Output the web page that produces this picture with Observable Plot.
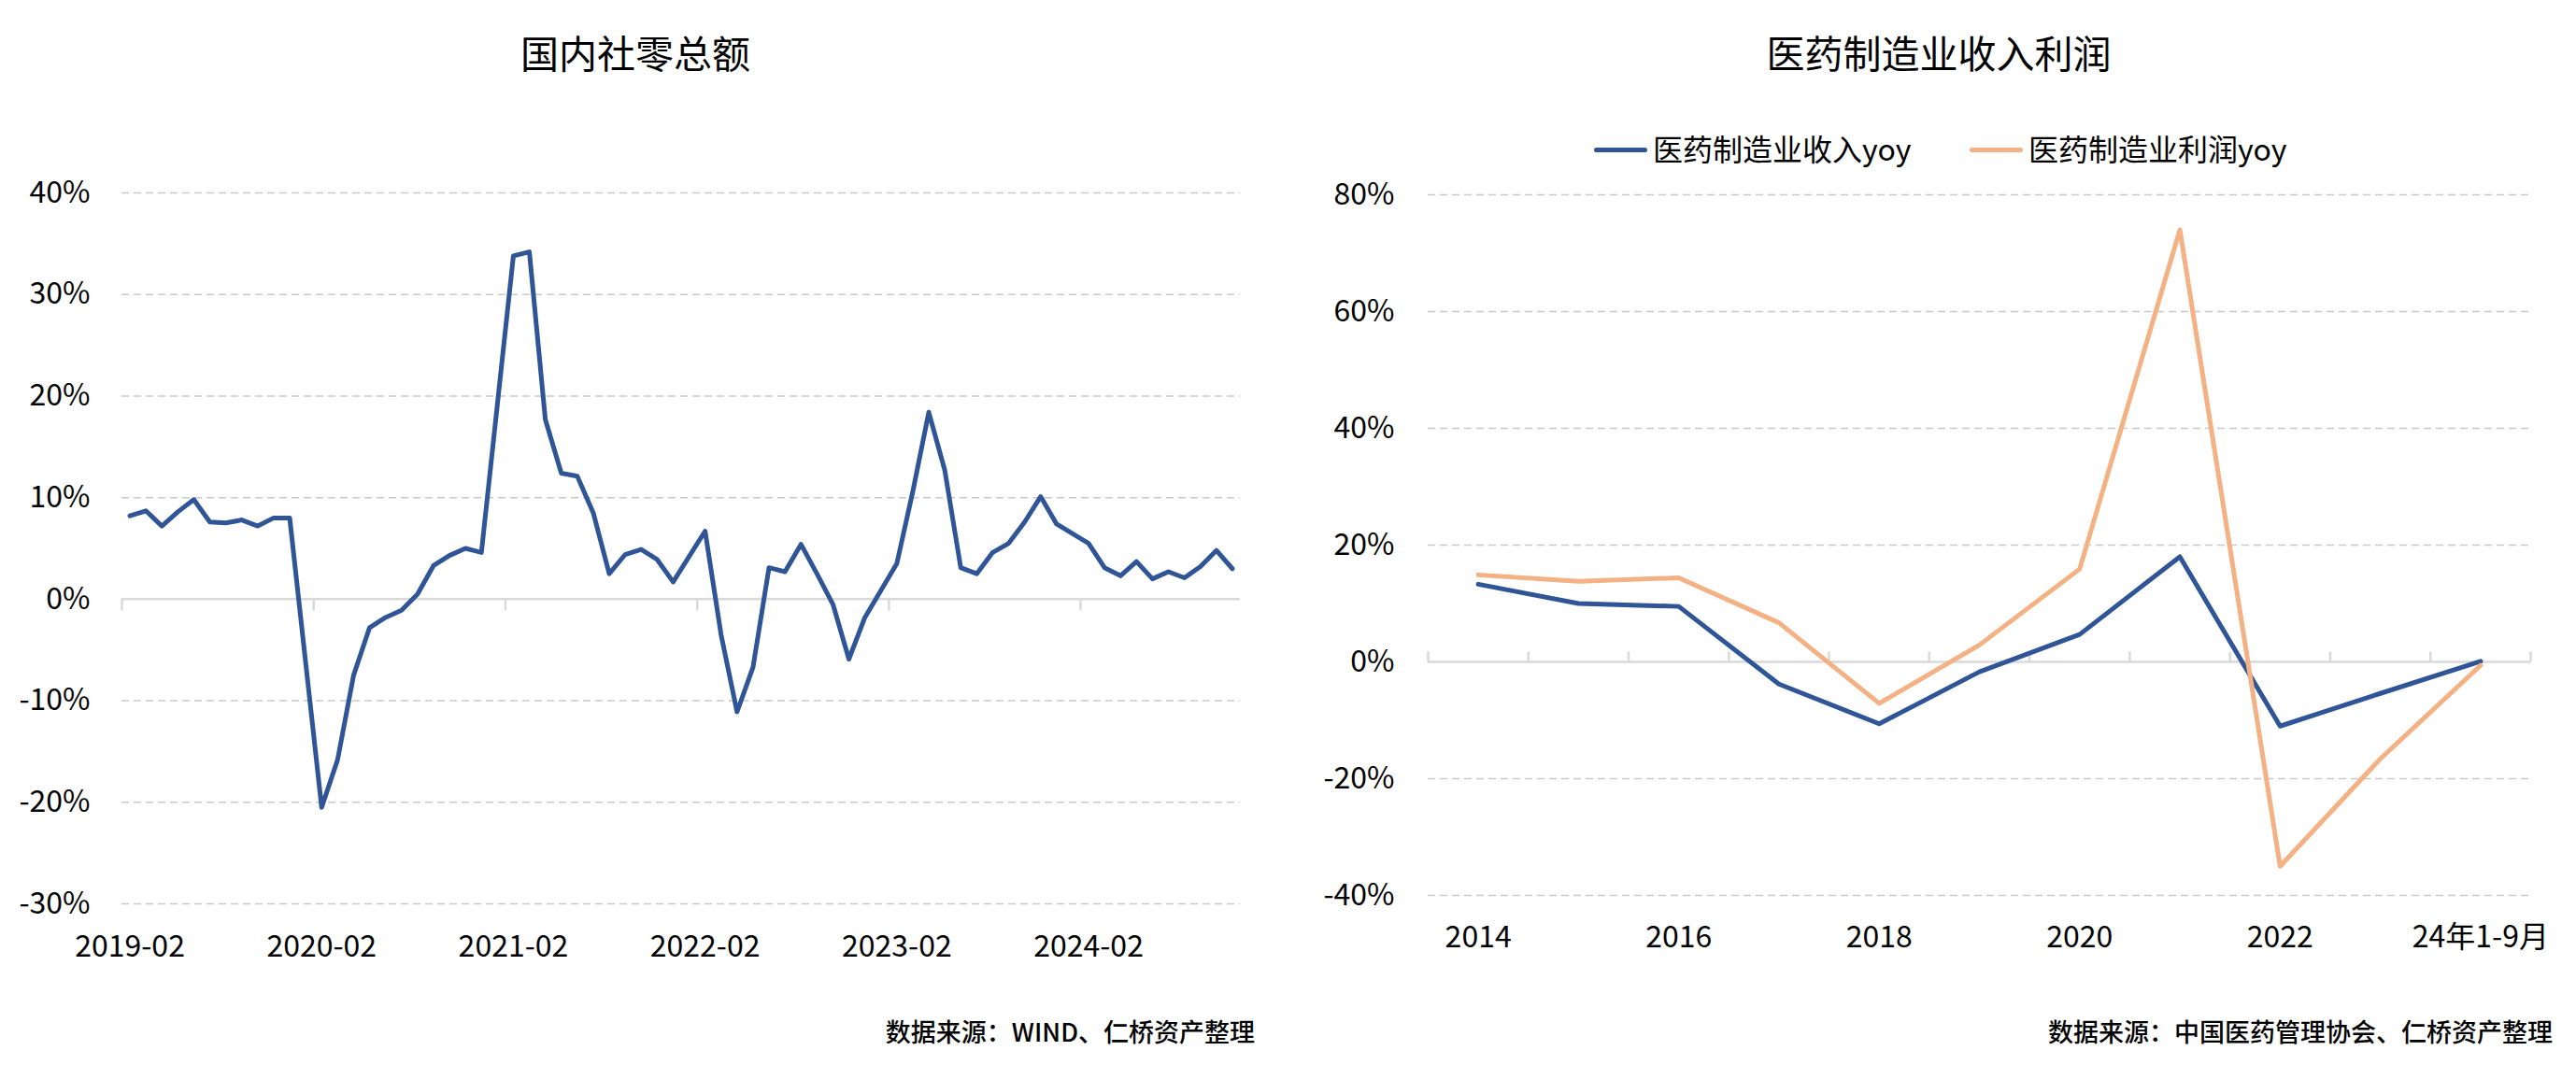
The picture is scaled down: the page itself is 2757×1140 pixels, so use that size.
<!DOCTYPE html>
<html><head><meta charset="utf-8">
<script src="https://cdn.jsdelivr.net/npm/d3@7"></script>
<script src="https://cdn.jsdelivr.net/npm/@observablehq/plot@0.6"></script>
<style>
html,body{margin:0;padding:0;background:#fff}
#root{position:relative;width:2757px;height:1140px;overflow:hidden;background:#fff;font-family:'Noto Sans CJK SC','Noto Sans',sans-serif;color:#000}
.abs{position:absolute;white-space:nowrap;line-height:1}
.panel{position:absolute;top:0}
</style></head><body>
<div id="root"></div>
<script>
// ---------- Left chart: 国内社零总额 (monthly yoy, %) ----------
const retailMonths = [
  "2019-02","2019-03","2019-04","2019-05","2019-06","2019-07","2019-08","2019-09","2019-10","2019-11","2019-12",
  "2020-01","2020-02","2020-03","2020-04","2020-05","2020-06","2020-07","2020-08","2020-09","2020-10","2020-11","2020-12",
  "2021-01","2021-02","2021-03","2021-04","2021-05","2021-06","2021-07","2021-08","2021-09","2021-10","2021-11","2021-12",
  "2022-01","2022-02","2022-03","2022-04","2022-05","2022-06","2022-07","2022-08","2022-09","2022-10","2022-11","2022-12",
  "2023-01","2023-02","2023-03","2023-04","2023-05","2023-06","2023-07","2023-08","2023-09","2023-10","2023-11","2023-12",
  "2024-01","2024-02","2024-03","2024-04","2024-05","2024-06","2024-07","2024-08","2024-09","2024-10","2024-11"
];
const retailYoY = [
  8.2, 8.7, 7.2, 8.6, 9.8, 7.6, 7.5, 7.8, 7.2, 8.0, 8.0,
  null, -20.5, -15.8, -7.5, -2.8, -1.8, -1.1, 0.5, 3.3, 4.3, 5.0, 4.6,
  null, 33.8, 34.2, 17.7, 12.4, 12.1, 8.5, 2.5, 4.4, 4.9, 3.9, 1.7,
  null, 6.7, -3.5, -11.1, -6.7, 3.1, 2.7, 5.4, 2.5, -0.5, -5.9, -1.8,
  null, 3.5, 10.6, 18.4, 12.7, 3.1, 2.5, 4.6, 5.5, 7.6, 10.1, 7.4,
  null, 5.5, 3.1, 2.3, 3.7, 2.0, 2.7, 2.1, 3.2, 4.8, 3.0
];
const retailXLabels = ["2019-02","2020-02","2021-02","2022-02","2023-02","2024-02"];
const retailYTicks = [-30, -20, -10, 0, 10, 20, 30, 40];

// ---------- Right chart: 医药制造业收入利润 (yoy, %) ----------
const pharmaYears = ["2014","2015","2016","2017","2018","2019","2020","2021","2022","2023","24年1-9月"];
const pharmaRevenueYoY = [13.3, 10.0, 9.5, -3.8, -10.6, -1.7, 4.7, 18.0, -11.0, -5.4, 0.1];
const pharmaProfitYoY  = [14.9, 13.8, 14.4, 6.7, -7.1, 2.9, 15.9, 74.0, -35.0, -16.6, -0.6];
const pharmaXLabels = ["2014","2016","2018","2020","2022","24年1-9月"];
const pharmaYTicks = [-40, -20, 0, 20, 40, 60, 80];

const BLUE = "#2F5597", ORANGE = "#F4B183";
const GRID = "#C9C9C9", AXIS = "#D9D9D9";
const FONT = "'Noto Sans CJK SC','Noto Sans',sans-serif";
const FS = 32;
const LW = 5;

const tickDown = {draw(ctx){ ctx.moveTo(0,0); ctx.lineTo(0,12); }};
const tickUp = {draw(ctx){ ctx.moveTo(0,0); ctx.lineTo(0,-11); }};

const root = document.getElementById("root");

// Left plot
const retailData = retailMonths.map((m, i) => ({i, m, v: retailYoY[i]})).filter(d => d.v != null);
const retailLabelIdx = retailXLabels.map(l => retailMonths.indexOf(l));
const left = Plot.plot({
  width: 1378, height: 1140,
  marginLeft: 130, marginRight: 51, marginTop: 206, marginBottom: 173,
  style: {fontFamily: FONT, fontSize: FS + "px", color: "#000", background: "transparent", overflow: "visible"},
  x: {type: "linear", domain: [-0.5, retailMonths.length - 0.5], axis: null},
  y: {domain: [-30, 40], axis: null},
  marks: [
    Plot.gridY(retailYTicks.filter(t => t !== 0), {stroke: GRID, strokeOpacity: 1, strokeWidth: 1.5, strokeDasharray: "8,5"}),
    Plot.ruleY([0], {stroke: AXIS, strokeWidth: 2.5}),
    Plot.dot(retailLabelIdx, {x: d => d - 0.5, y: () => 0, symbol: tickDown, fill: "none", stroke: AXIS, strokeWidth: 2.5}),
    Plot.axisY(retailYTicks, {label: null, tickSize: 0, tickPadding: 34, tickFormat: d => d + "%", fontSize: FS, fill: "#000"}),
    Plot.axisX(retailLabelIdx, {label: null, tickSize: 0, tickPadding: 34, tickFormat: i => retailMonths[i], fontSize: FS, fill: "#000"}),
    Plot.line(retailData, {x: "i", y: "v", stroke: BLUE, strokeWidth: LW, strokeLinejoin: "round", strokeLinecap: "round"})
  ]
});
const lp = document.createElement("div"); lp.className = "panel"; lp.style.left = "0px"; lp.appendChild(left); root.appendChild(lp);

// Right plot
const pharmaIdx = pharmaYears.map((y, i) => i);
const revData = pharmaYears.map((y, i) => ({i, v: pharmaRevenueYoY[i]}));
const profData = pharmaYears.map((y, i) => ({i, v: pharmaProfitYoY[i]}));
const pharmaLabelIdx = pharmaXLabels.map(l => pharmaYears.indexOf(l));
const pharmaTickEdges = pharmaIdx.concat([pharmaYears.length]);
const right = Plot.plot({
  width: 1379, height: 1140,
  marginLeft: 150, marginRight: 49, marginTop: 208, marginBottom: 182,
  style: {fontFamily: FONT, fontSize: FS + "px", color: "#000", background: "transparent", overflow: "visible"},
  x: {type: "linear", domain: [-0.5, pharmaYears.length - 0.5], axis: null},
  y: {domain: [-40, 80], axis: null},
  marks: [
    Plot.gridY(pharmaYTicks.filter(t => t !== 0), {stroke: GRID, strokeOpacity: 1, strokeWidth: 1.5, strokeDasharray: "8,5"}),
    Plot.ruleY([0], {stroke: AXIS, strokeWidth: 2.5}),
    Plot.dot(pharmaTickEdges, {x: d => d - 0.5, y: () => 0, symbol: tickUp, fill: "none", stroke: AXIS, strokeWidth: 2.5}),
    Plot.axisY(pharmaYTicks, {label: null, tickSize: 0, tickPadding: 36, tickFormat: d => d + "%", fontSize: FS, fill: "#000"}),
    Plot.axisX(pharmaLabelIdx, {label: null, tickSize: 0, tickPadding: 33, tickFormat: i => pharmaYears[i], fontSize: FS, fill: "#000"}),
    Plot.line(revData, {x: "i", y: "v", stroke: BLUE, strokeWidth: LW, strokeLinejoin: "round", strokeLinecap: "round"}),
    Plot.line(profData, {x: "i", y: "v", stroke: ORANGE, strokeWidth: LW, strokeLinejoin: "round", strokeLinecap: "round"})
  ]
});
const rp = document.createElement("div"); rp.className = "panel"; rp.style.left = "1378px"; rp.appendChild(right); root.appendChild(rp);

// HTML text: titles, legend, sources
function addText(txt, x, cy, fs, anchor, weight) {
  const d = document.createElement("div");
  d.className = "abs";
  d.textContent = txt;
  d.style.fontSize = fs + "px";
  d.style.fontWeight = weight || 400;
  d.style.top = (cy - 0.556 * fs) + "px";
  if (anchor === "middle") { d.style.left = x + "px"; d.style.transform = "translateX(-50%)"; }
  else if (anchor === "end") { d.style.right = (2757 - x) + "px"; }
  else { d.style.left = x + "px"; }
  root.appendChild(d);
}
function addSwatch(color, x, cy) {
  const s = document.createElement("div");
  s.className = "abs";
  Object.assign(s.style, {left: x + "px", top: (cy - 2.5) + "px", width: "57px", height: "5px", background: color, borderRadius: "3px"});
  root.appendChild(s);
}
addText("国内社零总额", 680, 58, 41, "middle");
addText("医药制造业收入利润", 2075, 58, 41, "middle");
addSwatch(BLUE, 1706, 160);
addText("医药制造业收入yoy", 1769, 160, 32, "start");
addSwatch(ORANGE, 2108, 160);
addText("医药制造业利润yoy", 2171, 160, 32, "start");
addText("数据来源：WIND、仁桥资产整理", 1343, 1105, 27, "end", 500);
addText("数据来源：中国医药管理协会、仁桥资产整理", 2732, 1105, 27, "end", 500);
</script>
</body></html>
